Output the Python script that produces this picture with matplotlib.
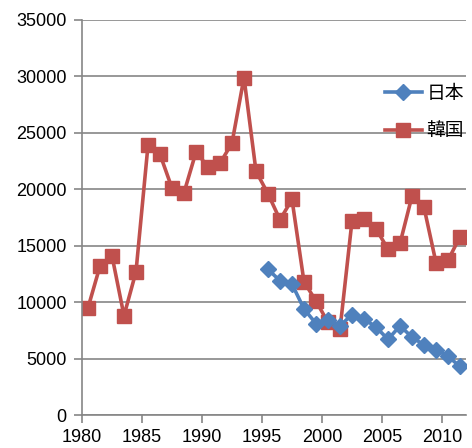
import numpy as np
import matplotlib as mpl
mpl.use('Agg')
import matplotlib.pyplot as plt

plt.rcParams['font.family'] = ['Liberation Sans', 'Noto Sans CJK JP', 'DejaVu Sans']

years = list(range(1980, 2012))
korea = [9500, 13200, 14100, 8800, 12700, 23900, 23100, 20100, 19700, 23300,
         22000, 22300, 24100, 29900, 21600, 19600, 17300, 19100, 11800, 10100,
         8200, 7600, 17200, 17400, 16500, 14700, 15200, 19400, 18400, 13500,
         13700, 15800]
japan_years = list(range(1995, 2012))
japan = [12900, 11900, 11600, 9400, 8100, 8400, 7900, 8900, 8500, 7800,
         6700, 7900, 6900, 6200, 5800, 5200, 4300]
tick_years = [1980, 1985, 1990, 1995, 2000, 2005, 2010]

blue = '#4F81BD'
red = '#C0504D'
grid = '#868686'

fig = plt.figure(figsize=(4.72, 4.48), dpi=100)
ax = fig.add_axes([82/472, 1 - 415/448, (466-82)/472, (415-20)/448])

ax.plot(japan_years, japan, color=blue, lw=2.6, marker='D', ms=8.5,
        label='日本', solid_joinstyle='round', zorder=3)
ax.plot(years, korea, color=red, lw=2.6, marker='s', ms=9.5,
        label='韓国', solid_joinstyle='round', zorder=2)

ax.set_xlim(1979.5, 2011.5)
ax.set_ylim(0, 35000)
ax.set_yticks(np.arange(0, 35001, 5000))
ax.set_xticks([y - 0.5 for y in tick_years])
ax.set_xticklabels([str(y) for y in tick_years])
ax.yaxis.grid(True, color=grid, lw=1.2)
ax.set_axisbelow(True)

for s in ['top', 'right']:
    ax.spines[s].set_visible(False)
for s in ['left', 'bottom']:
    ax.spines[s].set_color(grid)
    ax.spines[s].set_linewidth(1.2)
ax.tick_params(axis='both', colors=grid, length=6, width=1.2, labelsize=13,
               labelcolor='black', direction='out')
ax.tick_params(axis='y', pad=5)
ax.tick_params(axis='x', pad=4)

ax.legend(loc='upper left', bbox_to_anchor=(377/472, 1 - 78/448), bbox_transform=fig.transFigure,
          frameon=False, fontsize=13.5, handlelength=2.0, handletextpad=0.25,
          labelspacing=1.1, borderaxespad=0)

fig.savefig('out.png', dpi=100)
